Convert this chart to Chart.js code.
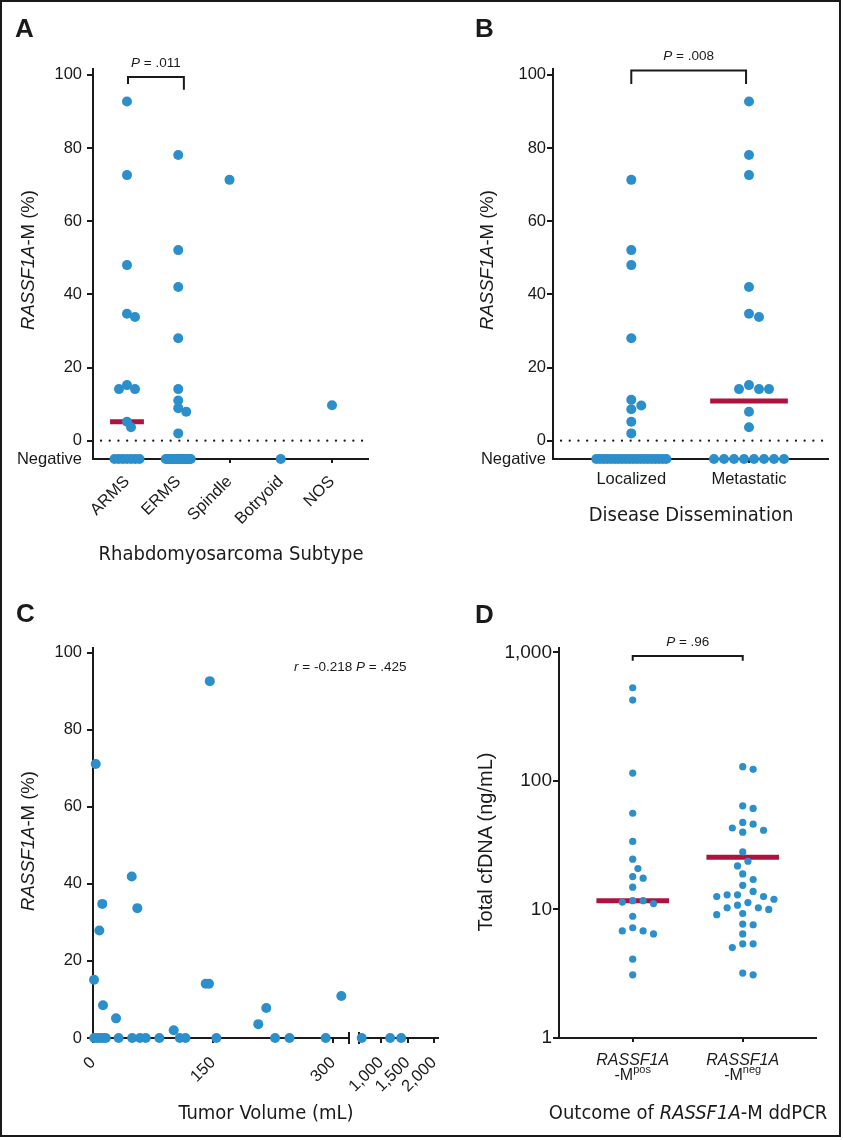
<!DOCTYPE html>
<html>
<head>
<meta charset="utf-8">
<script src="https://cdn.jsdelivr.net/npm/chart.js@4.4.1/dist/chart.umd.min.js"></script>
<style>
  html, body { margin: 0; padding: 0; background: #fff; }
  #fig { position: relative; width: 843px; height: 1140px; overflow: hidden;
         font-family: "Liberation Sans", Arial, sans-serif; color: #1a1a1a; }
  #frame { position: absolute; left: 0; top: 0; width: 837px; height: 1133px; border: 2px solid #1a1a1a; }
  canvas { position: absolute; left: 0; top: 0; }
  .t { position: absolute; white-space: nowrap; line-height: 1; }
  .letter { font-weight: bold; }
  .narrow { font-family: "DejaVu Sans Condensed", "Liberation Sans", sans-serif; }
  .sup { font-size: 11px; position: relative; top: -7px; }
</style>
</head>
<body>
<div id="fig">
  <div id="frame"></div>
  <canvas id="chartA" width="843" height="1140"></canvas>
  <canvas id="chartB" width="843" height="1140"></canvas>
  <canvas id="chartC" width="843" height="1140"></canvas>
  <canvas id="chartD" width="843" height="1140"></canvas>
</div>
<script>
// ---- data ----
const NEG = -5; // row used for "Negative" samples on panels A and B

// A: RASSF1A-M (%) by rhabdomyosarcoma subtype
const subtypeLabels = ["ARMS", "ERMS", "Spindle", "Botryoid", "NOS"];
const armsValues = [92.7, 72.6, 48.0, 34.7, 33.8, 15.2, 14.1, 14.1, 5.2, 3.7];
const ermsValues = [78.1, 52.1, 42.0, 28.0, 14.1, 11.0, 8.9, 7.9, 2.0];
const spindleValues = [71.3];
const botryoidValues = [];
const nosValues = [9.7];
const subtypeNegatives = [7, 20, 0, 1, 0];
const subtypeMedians = [5.2, null, null, null, null];

// B: RASSF1A-M (%) by disease dissemination
const stageLabels = ["Localized", "Metastatic"];
const localizedValues = [71.3, 52.1, 48.0, 28.0, 11.2, 9.6, 8.6, 5.2, 2.0];
const metastaticValues = [92.7, 78.1, 72.6, 42.0, 34.7, 33.8, 15.2, 14.1, 14.1, 14.1, 7.9, 3.7];
const stageNegatives = [20, 8];
const stageMedians = [null, 10.85];

const pctTicks = [0, 20, 40, 60, 80, 100];

// C: RASSF1A-M (%) against tumor volume (mL)
const tumorVolume = [146, 3.4, 48.4, 11.6, 55.4, 7.9, 1.3, 140.9, 145, 12.5, 28.8, 100.9, 206.6, 216.6, 310.4,
                     1.5, 5, 9, 12.5, 16, 32, 49, 58.8, 65.9, 82.9, 108.5, 115.6, 154.2, 227.6, 245.6, 290.9,
                     636, 1172, 1380];
const tumorPct = [92.6, 71.1, 41.9, 34.8, 33.7, 27.9, 15.1, 14.1, 14.1, 8.5, 5.1, 2.0, 3.6, 7.8, 10.9,
                  0, 0, 0, 0, 0, 0, 0, 0, 0, 0, 0, 0, 0, 0, 0, 0,
                  0, 0, 0];
const volumeTicks = [0, 150, 300, 1000, 1500, 2000];

// D: total cfDNA (ng/mL) by ddPCR outcome
const outcomeSuffix = ["pos", "neg"];
const cfdnaPos = [530, 425, 115, 56, 33.8, 24.6, 20.8, 18.0, 17.5, 14.9, 11.7, 11.7, 11.4, 11.1,
                  8.85, 7.2, 6.8, 6.8, 6.45, 4.1, 3.1];
const cfdnaNeg = [129, 123, 64, 61, 47.5, 46, 43, 41.3, 39.9, 28, 23.7, 21.8, 18.9, 17.1, 15.4, 13.8,
                  13.0, 13.0, 12.6, 12.6, 12.0, 11.3, 10.8, 10.3, 10.3, 10.0, 9.3, 9.1, 7.7, 7.6, 6.45,
                  5.4, 5.4, 5.05, 3.2, 3.1];
const cfdnaMedians = [11.7, 25.5];
const cfdnaTicks = [1, 10, 100, 1000];

// ---- look ----
const FONT = '"Liberation Sans", Arial, sans-serif';
const INK = "#1a1a1a";
const DOT = "#2b8fcb";
const MEDIAN = "#b0123f";
const Y_W = 90, X_H = 80;

// plot areas of the four panels (pixels) and their axis ranges
const geomA = { left: 93, top: 69, right: 368, bottom: 459, xMin: -0.663, xMax: 4.702, yMin: NEG, yMax: 101.6 };
const geomB = { left: 553, top: 69, right: 828, bottom: 459, xMin: -0.665, xMax: 1.671, yMin: NEG, yMax: 101.6 };
const geomC = { left: 93, top: 648, right: 438, bottom: 1038, xMin: 0, xMax: 431.25, yMin: 0, yMax: 101.2 };
const geomD = { left: 559, top: 648, right: 816, bottom: 1038, xMin: -0.67, xMax: 1.666, yMin: 1, yMax: 1080 };

// broken volume axis on panel C
const C_BREAK_LO = 320, C_BREAK_HI = 585, C_GAP = 12.5, C_SCALE_HI = 0.0663;
function volToAxis(v) {
    return v <= C_BREAK_LO ? v : C_BREAK_LO + C_GAP + (v - C_BREAK_HI) * C_SCALE_HI;
}

// simple deterministic beeswarm: x offsets in px for one group
function swarm(values, toPx, step, minDist) {
    const order = values.map((_, i) => i).sort((a, b) => values[b] - values[a]);
    const offsets = new Array(values.length).fill(0);
    const placed = [];
    for (const i of order) {
        const py = toPx(values[i]);
        for (let k = 0; k < 60; k++) {
            const dx = (k % 2 ? 1 : -1) * Math.ceil(k / 2) * step;
            if (placed.every((p) => Math.hypot(p.x - dx, p.y - py) >= minDist)) {
                offsets[i] = dx;
                placed.push({ x: dx, y: py });
                break;
            }
        }
    }
    return offsets;
}

function spreadRow(n, halfWidth, maxStep) {
    if (n === 0) return [];
    if (n === 1) return [0];
    const step = Math.min(maxStep, (2 * halfWidth) / (n - 1));
    return Array.from({ length: n }, (_, i) => (i - (n - 1) / 2) * step);
}

function groupPoints(groups, negatives, g, opts) {
    const catPx = (g.right - g.left) / (g.xMax - g.xMin);
    const pts = [];
    groups.forEach((vals, gi) => {
        const offs = swarm(vals, opts.toPx, opts.step, opts.minDist);
        vals.forEach((v, j) => pts.push({ x: gi + offs[j] / catPx, y: v }));
        spreadRow(negatives ? negatives[gi] : 0, opts.negHalf, 10)
            .forEach((o) => pts.push({ x: gi + o / catPx, y: NEG }));
    });
    return pts;
}

// ---- chart helpers ----
function baseOptions(g) {
    return {
        responsive: false,
        animation: false,
        events: [],
        layout: { padding: { left: g.left - Y_W, top: g.top, right: 843 - g.right, bottom: 1140 - g.bottom - X_H } },
        plugins: { legend: { display: false }, tooltip: { enabled: false } },
    };
}

function axisCommon(tickLength) {
    return {
        border: { color: INK, width: 2 },
        grid: { drawOnChartArea: false, drawTicks: true, tickLength: tickLength, lineWidth: 2, color: INK },
    };
}

function yPctAxis(g, pad) {
    const withNeg = g.yMin === NEG;
    const ticks = withNeg ? [NEG].concat(pctTicks) : pctTicks;
    return Object.assign(axisCommon(6), {
        type: "linear", min: g.yMin, max: g.yMax,
        afterFit: (s) => { s.width = Y_W; },
        afterBuildTicks: (s) => { s.ticks = ticks.map((value) => ({ value })); },
        grid: {
            drawOnChartArea: false, tickLength: 6, lineWidth: 2, color: INK,
            tickColor: (ctx) => (ctx.tick && ctx.tick.value === NEG ? "rgba(0,0,0,0)" : INK),
        },
        ticks: {
            font: { family: FONT, size: 16.5 }, color: INK, padding: pad,
            callback: (v) => (v === NEG ? "Negative" : v),
        },
    });
}

function categoryAxis(g, labels, rotation, pad, showLabels) {
    return Object.assign(axisCommon(4), {
        type: "linear", min: g.xMin, max: g.xMax,
        afterFit: (s) => { s.height = X_H; },
        afterBuildTicks: (s) => { s.ticks = labels.map((_, i) => ({ value: i })); },
        ticks: {
            display: showLabels, autoSkip: false, maxRotation: rotation, minRotation: rotation,
            font: { family: FONT, size: 16.5 }, color: INK, padding: pad,
            callback: (v) => labels[v],
        },
    });
}

function dots(points, radius) {
    return { data: points, pointRadius: radius, pointHoverRadius: radius, backgroundColor: DOT, borderWidth: 0, clip: false };
}

const zeroLine = {
    id: "zeroLine",
    beforeDatasetsDraw(chart) {
        const { ctx, chartArea, scales: { y } } = chart;
        const py = y.getPixelForValue(0);
        ctx.save();
        ctx.strokeStyle = INK;
        ctx.lineWidth = 2.2;
        ctx.lineCap = "round";
        ctx.setLineDash([0.1, 8.6]);
        ctx.beginPath();
        ctx.moveTo(chartArea.left + 8, py);
        ctx.lineTo(chartArea.right - 4, py);
        ctx.stroke();
        ctx.restore();
    },
};

function medianBars(medians) {
    return {
        id: "medians",
        beforeDatasetsDraw(chart) {
            const { ctx, scales: { x, y } } = chart;
            ctx.save();
            ctx.strokeStyle = MEDIAN;
            ctx.lineWidth = 5;
            medians.forEach((m, i) => {
                if (m == null) return;
                const py = y.getPixelForValue(m);
                ctx.beginPath();
                ctx.moveTo(x.getPixelForValue(i - 0.33), py);
                ctx.lineTo(x.getPixelForValue(i + 0.33), py);
                ctx.stroke();
            });
            ctx.restore();
        },
    };
}

function bracket(b) {
    return {
        id: "bracket",
        afterDraw(chart) {
            const { ctx, scales: { x, y } } = chart;
            const x1 = x.getPixelForValue(b.x1), x2 = x.getPixelForValue(b.x2);
            const yt = y.getPixelForValue(b.top);
            ctx.save();
            ctx.strokeStyle = INK;
            ctx.lineWidth = 2;
            ctx.beginPath();
            ctx.moveTo(x1, y.getPixelForValue(b.leg1));
            ctx.lineTo(x1, yt);
            ctx.lineTo(x2, yt);
            ctx.lineTo(x2, y.getPixelForValue(b.leg2));
            ctx.stroke();
            ctx.restore();
        },
    };
}

const axisBreak = {
    id: "axisBreak",
    beforeDatasetsDraw(chart) {
        const { ctx, chartArea, scales: { x } } = chart;
        const x1 = x.getPixelForValue(C_BREAK_LO);
        const x2 = x.getPixelForValue(C_BREAK_LO + C_GAP);
        const yb = chartArea.bottom;
        ctx.save();
        ctx.fillStyle = "#fff";
        ctx.fillRect(x1 + 1, yb - 3, x2 - x1 - 2, 6);
        ctx.strokeStyle = INK;
        ctx.lineWidth = 2;
        [x1, x2].forEach((px) => {
            ctx.beginPath();
            ctx.moveTo(px, yb - 6);
            ctx.lineTo(px, yb + 6);
            ctx.stroke();
        });
        ctx.restore();
    },
};

// ---- panel A ----
const pxA = (geomA.bottom - geomA.top) / (geomA.yMax - geomA.yMin);
const pointsA = groupPoints([armsValues, ermsValues, spindleValues, botryoidValues, nosValues], subtypeNegatives, geomA,
    { toPx: (v) => v * pxA, step: 4, minDist: 6, negHalf: 12.5 });
const bracketA = { x1: 0.02, x2: 1.11, top: 99.4, leg1: 97.5, leg2: 95.9 };
const chartA = new Chart(document.getElementById("chartA"), {
    type: "scatter",
    data: { datasets: [dots(pointsA, 5)] },
    options: Object.assign(baseOptions(geomA), {
        scales: { x: categoryAxis(geomA, subtypeLabels, 45, 9, true), y: yPctAxis(geomA, 5) },
    }),
    plugins: [zeroLine, medianBars(subtypeMedians), bracket(bracketA)],
});

// ---- panel B ----
const pxB = (geomB.bottom - geomB.top) / (geomB.yMax - geomB.yMin);
const pointsB = groupPoints([localizedValues, metastaticValues], stageNegatives, geomB,
    { toPx: (v) => v * pxB, step: 5, minDist: 9.5, negHalf: 35 });
const bracketB = { x1: 0, x2: 0.975, top: 101.2, leg1: 97.5, leg2: 97.5 };
const chartB = new Chart(document.getElementById("chartB"), {
    type: "scatter",
    data: { datasets: [dots(pointsB, 5)] },
    options: Object.assign(baseOptions(geomB), {
        scales: { x: categoryAxis(geomB, stageLabels, 0, 7, true), y: yPctAxis(geomB, 1) },
    }),
    plugins: [zeroLine, medianBars(stageMedians), bracket(bracketB)],
});

// ---- panel C ----
const pointsC = tumorVolume.map((v, i) => ({ x: volToAxis(v), y: tumorPct[i] }));
const chartC = new Chart(document.getElementById("chartC"), {
    type: "scatter",
    data: { datasets: [dots(pointsC, 5)] },
    options: Object.assign(baseOptions(geomC), {
        scales: {
            x: Object.assign(axisCommon(5), {
                type: "linear", min: geomC.xMin, max: geomC.xMax,
                afterFit: (s) => { s.height = X_H; },
                afterBuildTicks: (s) => { s.ticks = volumeTicks.map((v) => ({ value: volToAxis(v) })); },
                ticks: {
                    autoSkip: false, maxRotation: 45, minRotation: 45,
                    font: { family: FONT, size: 16.5 }, color: INK, padding: 10,
                    callback: (v, i) => volumeTicks[i].toLocaleString("en-US"),
                },
            }),
            y: yPctAxis(geomC, 5),
        },
    }),
    plugins: [axisBreak],
});

// ---- panel D ----
const decadePx = (geomD.bottom - geomD.top) / (Math.log10(geomD.yMax) - Math.log10(geomD.yMin));
const pointsD = groupPoints([cfdnaPos, cfdnaNeg], null, geomD,
    { toPx: (v) => Math.log10(v) * decadePx, step: 5.2, minDist: 9.5, negHalf: 0 });
const bracketD = { x1: 0, x2: 1, top: 935, leg1: 860, leg2: 860 };
const chartD = new Chart(document.getElementById("chartD"), {
    type: "scatter",
    data: { datasets: [dots(pointsD, 3.6)] },
    options: Object.assign(baseOptions(geomD), {
        scales: {
            x: categoryAxis(geomD, outcomeSuffix, 0, 4, false),
            y: Object.assign(axisCommon(6), {
                type: "logarithmic", min: geomD.yMin, max: geomD.yMax,
                afterFit: (s) => { s.width = Y_W; },
                afterBuildTicks: (s) => { s.ticks = cfdnaTicks.map((value) => ({ value })); },
                ticks: {
                    font: { family: FONT, size: 19 }, color: INK, padding: 1,
                    callback: (v) => Number(v).toLocaleString("en-US"),
                },
            }),
        },
    }),
    plugins: [medianBars(cfdnaMedians), bracket(bracketD)],
});

// ---- text (letters, titles, annotations) ----
const fig = document.getElementById("fig");
function addText(html, x, baseline, size, align, cls) {
    const el = document.createElement("div");
    el.className = "t " + (cls || "");
    el.innerHTML = html;
    el.style.fontSize = size + "px";
    el.style.left = x + "px";
    el.style.top = baseline - 0.8465 * size + "px";
    if (align === "center") el.style.transform = "translateX(-50%)";
    fig.appendChild(el);
    return el;
}
function addVText(html, cx, cy, size) {
    const el = document.createElement("div");
    el.className = "t";
    el.innerHTML = html;
    el.style.fontSize = size + "px";
    el.style.left = cx + "px";
    el.style.top = cy + "px";
    el.style.transform = "translate(-50%, -50%) rotate(-90deg)";
    fig.appendChild(el);
}

addText("A", 15, 37, 26, "left", "letter");
addText("B", 475, 37, 26, "left", "letter");
addText("C", 16, 622, 26, "left", "letter");
addText("D", 475, 623, 26, "left", "letter");

const pctTitle = "<i>RASSF1A</i>-M (%)";
addVText(pctTitle, 27.5, 260, 18.5);
addVText(pctTitle, 487, 260, 18.5);
addVText(pctTitle, 28, 841, 18.5);
addVText("Total cfDNA (ng/mL)", 485, 842, 20);

addText("Rhabdomyosarcoma Subtype", 231, 560, 20, "center", "narrow");
addText("Disease Dissemination", 691, 521, 20, "center", "narrow");
addText("Tumor Volume (mL)", 266, 1119, 20, "center", "narrow");
addText("Outcome of <i>RASSF1A</i>-M ddPCR", 688, 1119, 20, "center", "narrow");

function pLabel(chart, b, text) {
    const { x, y } = chart.scales;
    const cx = (x.getPixelForValue(b.x1) + x.getPixelForValue(b.x2)) / 2;
    addText(text, cx, y.getPixelForValue(b.top) - 10, 13.5, "center");
}
pLabel(chartA, bracketA, "<i>P</i> = .011");
pLabel(chartB, bracketB, "<i>P</i> = .008");
pLabel(chartD, bracketD, "<i>P</i> = .96");
addText("<i>r</i> = -0.218 <i>P</i> = .425", 294, 671, 13.5, "left");

outcomeSuffix.forEach((suffix, i) => {
    const px = chartD.scales.x.getPixelForValue(i);
    addText("<i>RASSF1A</i>", px, 1066, 16, "center");
    addText('-M<span class="sup">' + suffix + "</span>", px, 1081, 16, "center");
});
</script>
</body>
</html>
